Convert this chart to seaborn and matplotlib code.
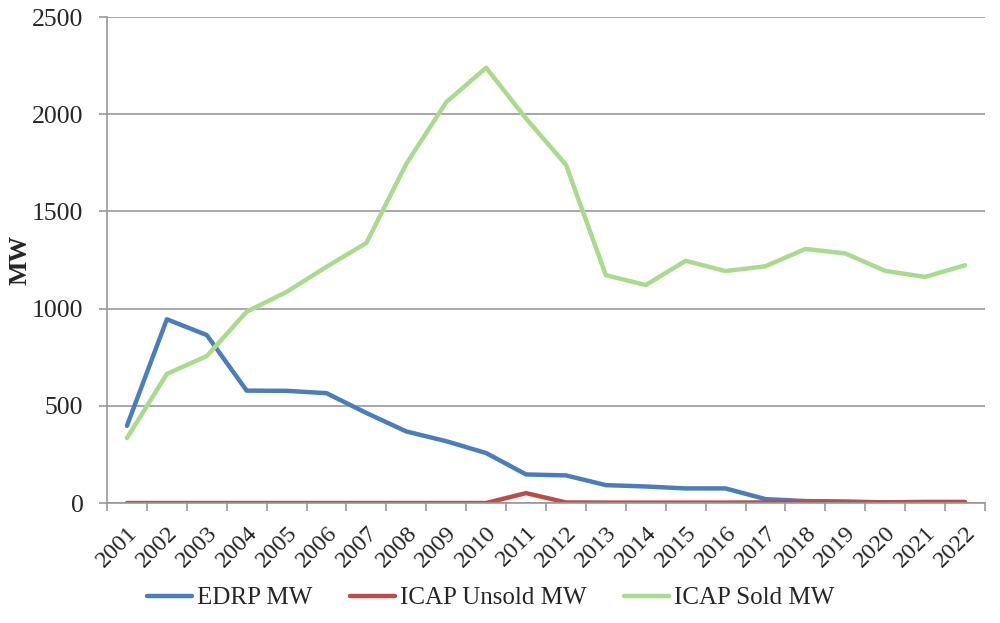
import matplotlib
matplotlib.use("Agg")
import matplotlib.pyplot as plt
import seaborn as sns
import pandas as pd
import numpy as np
from matplotlib.ticker import FixedLocator

years = [str(y) for y in range(2001, 2023)]
edrp = [397, 945, 864, 578, 577, 565, 463, 368, 318, 257, 147, 142, 92, 85, 75, 75, 20, 10, 8, 3, 5, 5]
icap_unsold = [0, 0, 0, 0, 0, 0, 0, 0, 0, 0, 51, 3, 2, 2, 2, 2, 3, 3, 3, 4, 5, 5]
icap_sold = [334, 664, 756, 984, 1086, 1215, 1338, 1745, 2062, 2239, 1978, 1740, 1172, 1121, 1246, 1193, 1218, 1307, 1284, 1194, 1163, 1223]
series_names = ["EDRP MW", "ICAP Unsold MW", "ICAP Sold MW"]
colors = ["#4A7EBB", "#BE4B48", "#A9DB8E"]
y_ticks = [0, 500, 1000, 1500, 2000, 2500]

sns.set_style("white")
plt.rcParams['font.family'] = ['Liberation Serif', 'DejaVu Serif']

df = pd.DataFrame({
    "Year": years * 3,
    "MW": edrp + icap_unsold + icap_sold,
    "Series": [series_names[0]] * len(years) + [series_names[1]] * len(years) + [series_names[2]] * len(years),
})

grid_col = "#989898"

fig = plt.figure(figsize=(10, 6.23), dpi=100)
ax = fig.add_axes([0.107, 0.1926, 0.878, 0.7801])
sns.lineplot(data=df, x="Year", y="MW", hue="Series", palette=colors,
             hue_order=series_names, linewidth=3.2, ax=ax, sort=False)

ax.set_xlim(-0.5, len(years) - 0.5)
ax.set_ylim(0, 2500)
ax.set_yticks(y_ticks)
ax.set_yticklabels([str(v) for v in y_ticks], fontsize=18.5)
ax.yaxis.grid(True, color=grid_col, linewidth=1.2)
ax.xaxis.grid(False)
ax.set_axisbelow(True)

ax.set_xticks(range(len(years)))
ax.set_xticklabels(years, rotation=45, ha="right", rotation_mode="anchor", fontsize=17.5)
ax.tick_params(axis="x", which="major", length=0, pad=14)
ax.xaxis.set_minor_locator(FixedLocator(np.arange(-0.5, len(years), 1.0)))
ax.tick_params(axis="x", which="minor", length=6, width=1.2, color=grid_col, direction="out", bottom=True)
ax.tick_params(axis="y", which="major", length=6, width=1.2, color=grid_col, direction="out", left=True, pad=11)

for s in ["top", "right"]:
    ax.spines[s].set_visible(False)
for s in ["left", "bottom"]:
    ax.spines[s].set_color(grid_col)
    ax.spines[s].set_linewidth(1.2)

ax.set_xlabel("")
ax.set_ylabel("MW", fontsize=18.5, fontweight="bold")
ax.yaxis.set_label_coords(-0.086, 0.5)

handles, labels = ax.get_legend_handles_labels()
ax.get_legend().remove()
leg = fig.legend(handles, labels, loc="center", bbox_to_anchor=(0.491, 0.04), ncol=3,
                 frameon=False, fontsize=18, handlelength=1.8, handletextpad=0.2,
                 columnspacing=1.5)

fig.savefig("out.png", dpi=100)
